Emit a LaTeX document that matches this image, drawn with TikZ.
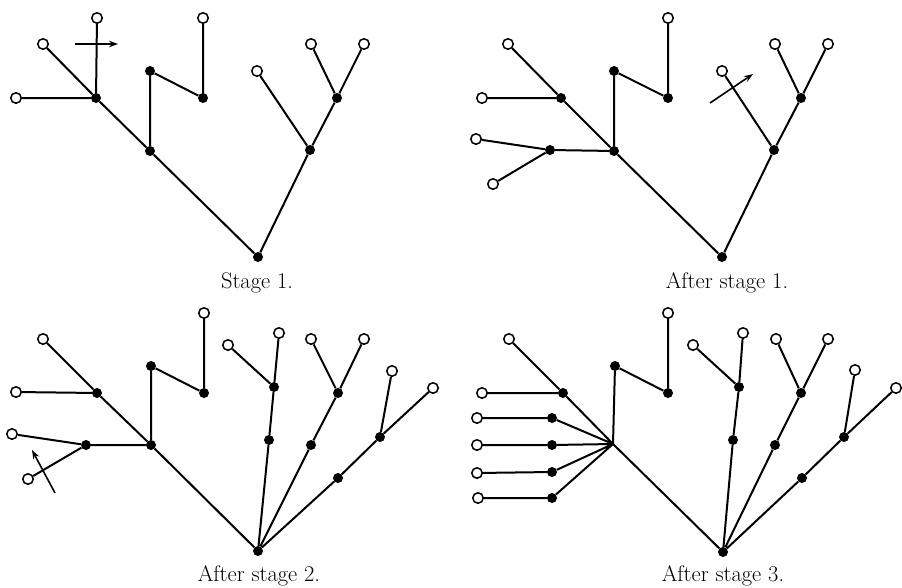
\documentclass[tikz,border=0pt]{standalone}
\usetikzlibrary{arrows.meta}
\begin{document}
\begin{tikzpicture}[x=1pt,y=-1pt,
  opn/.style={circle,draw,fill=white,inner sep=0pt,minimum size=10.5pt,line width=1.5pt},
  fil/.style={circle,fill=black,inner sep=0pt,minimum size=10pt},
  edge/.style={line width=2pt},
  mover/.style={line width=1.6pt,-{Stealth[length=9pt,width=6.5pt]}},
  lab/.style={anchor=base,font=\fontsize{22.5}{27}\selectfont,inner sep=0pt}]
\useasboundingbox (0,0) rectangle (902,587);

% ---------- Panel 1 ----------
\node[opn] (p1o1) at (97,18) {};
\node[opn] (p1o2) at (43,44) {};
\node[opn] (p1o3) at (16,98) {};
\node[fil] (p1A) at (96,98) {};
\node[fil] (p1B) at (150,151) {};
\node[fil] (p1C) at (150,71) {};
\node[fil] (p1D) at (203,98) {};
\node[opn] (p1o4) at (203,18) {};
\node[fil] (p1R) at (258,257) {};
\node[fil] (p1E) at (310,150) {};
\node[opn] (p1o5) at (257,71) {};
\node[fil] (p1F) at (337,98) {};
\node[opn] (p1o6) at (311,44) {};
\node[opn] (p1o7) at (364,44) {};
\draw[edge] (p1o1)--(p1A) (p1o2)--(p1A) (p1o3)--(p1A) (p1A)--(p1B)
  (p1B)--(p1C) (p1C)--(p1D) (p1D)--(p1o4) (p1B)--(p1R) (p1R)--(p1E)
  (p1E)--(p1o5) (p1E)--(p1F) (p1F)--(p1o6) (p1F)--(p1o7);
\coordinate (p1a1) at (75,44);
\coordinate (p1a2) at (118,44);
\draw[mover] (p1a1)--(p1a2);
\node[lab] (l1) at (257,288) {Stage 1.};

% ---------- Panel 2 ----------
\node[opn] (p2o2) at (508,44) {};
\node[opn] (p2o3) at (482,98) {};
\node[fil] (p2A) at (561,98) {};
\node[fil] (p2B) at (614,151) {};
\node[opn] (p2o8) at (476,139) {};
\node[opn] (p2o9) at (493,184) {};
\node[fil] (p2G) at (550,150) {};
\node[fil] (p2C) at (614,71) {};
\node[fil] (p2D) at (668,98) {};
\node[opn] (p2o4) at (668,18) {};
\node[fil] (p2R) at (722,257) {};
\node[fil] (p2E) at (774,150) {};
\node[opn] (p2o5) at (722,71) {};
\node[fil] (p2F) at (801,98) {};
\node[opn] (p2o6) at (775,44) {};
\node[opn] (p2o7) at (828,44) {};
\draw[edge] (p2o2)--(p2A) (p2o3)--(p2A) (p2A)--(p2B) (p2G)--(p2B)
  (p2o8)--(p2G) (p2o9)--(p2G) (p2B)--(p2C) (p2C)--(p2D) (p2D)--(p2o4)
  (p2B)--(p2R) (p2R)--(p2E) (p2E)--(p2o5) (p2E)--(p2F) (p2F)--(p2o6) (p2F)--(p2o7);
\coordinate (p2a1) at (710,103);
\coordinate (p2a2) at (753,74);
\draw[mover] (p2a1)--(p2a2);
\node[lab] (l2) at (727,288) {After stage 1.};

% ---------- Panel 3 ----------
\node[opn] (p3o2) at (43,339) {};
\node[opn] (p3o3) at (16,392) {};
\node[fil] (p3A) at (97,393) {};
\node[fil] (p3B) at (151,445) {};
\node[opn] (p3o8) at (12,434) {};
\node[opn] (p3o9) at (28,479) {};
\node[fil] (p3G) at (86,445) {};
\node[fil] (p3C) at (151,366) {};
\node[fil] (p3D) at (204,393) {};
\node[opn] (p3o4) at (204,313) {};
\node[fil] (p3R) at (258,551) {};
\node[opn] (p3o10) at (228,345) {};
\node[opn] (p3o11) at (279,333) {};
\node[fil] (p3H) at (274,387) {};
\node[fil] (p3I) at (269,440) {};
\node[opn] (p3o6) at (311,339) {};
\node[opn] (p3o7) at (364,339) {};
\node[fil] (p3F) at (338,393) {};
\node[fil] (p3J) at (311,445) {};
\node[opn] (p3o12) at (392,371) {};
\node[opn] (p3o13) at (433,388) {};
\node[fil] (p3K) at (380,437) {};
\node[fil] (p3L) at (338,478) {};
\draw[edge] (p3o2)--(p3A) (p3o3)--(p3A) (p3A)--(p3B) (p3G)--(p3B)
  (p3o8)--(p3G) (p3o9)--(p3G) (p3B)--(p3C) (p3C)--(p3D) (p3D)--(p3o4)
  (p3B)--(p3R) (p3R)--(p3I) (p3I)--(p3H) (p3H)--(p3o10) (p3H)--(p3o11)
  (p3R)--(p3J) (p3J)--(p3F) (p3F)--(p3o6) (p3F)--(p3o7)
  (p3R)--(p3L) (p3L)--(p3K) (p3K)--(p3o12) (p3K)--(p3o13);
\coordinate (p3a1) at (55,493);
\coordinate (p3a2) at (32,450);
\draw[mover] (p3a1)--(p3a2);
\node[lab] (l3) at (259,581) {After stage 2.};

% ---------- Panel 4 ----------
\node[opn] (p4o2) at (509,339) {};
\node[fil] (p4A) at (563,393) {};
\node[opn] (p4o3) at (482,393) {};
\coordinate (p4B) at (613,444);
\node[fil] (p4M1) at (552,418) {};
\node[opn] (p4n1) at (477,418) {};
\node[fil] (p4M2) at (552,445) {};
\node[opn] (p4n2) at (477,445) {};
\node[fil] (p4M3) at (552,472) {};
\node[opn] (p4n3) at (477,473) {};
\node[fil] (p4M4) at (552,498) {};
\node[opn] (p4n4) at (478,498) {};
\node[fil] (p4C) at (615,366) {};
\node[fil] (p4D) at (668,393) {};
\node[opn] (p4o4) at (668,313) {};
\node[fil] (p4R) at (723,552) {};
\node[opn] (p4o10) at (693,345) {};
\node[opn] (p4o11) at (743,333) {};
\node[fil] (p4H) at (739,387) {};
\node[fil] (p4I) at (733,440) {};
\node[opn] (p4o6) at (776,339) {};
\node[opn] (p4o7) at (828,339) {};
\node[fil] (p4F) at (801,393) {};
\node[fil] (p4J) at (775,445) {};
\node[opn] (p4o12) at (855,370) {};
\node[opn] (p4o13) at (896,388) {};
\node[fil] (p4K) at (844,437) {};
\node[fil] (p4L) at (802,478) {};
\draw[edge,line join=round] (p4o2)--(p4A) (p4o3)--(p4A) (p4A)--(p4B)
  (p4M1)--(p4B) (p4M2)--(p4B) (p4M3)--(p4B) (p4M4)--(p4B)
  (p4n1)--(p4M1) (p4n2)--(p4M2) (p4n3)--(p4M3) (p4n4)--(p4M4)
  (p4B)--(p4C) (p4C)--(p4D) (p4D)--(p4o4)
  (p4B)--(p4R) (p4R)--(p4I) (p4I)--(p4H) (p4H)--(p4o10) (p4H)--(p4o11)
  (p4R)--(p4J) (p4J)--(p4F) (p4F)--(p4o6) (p4F)--(p4o7)
  (p4R)--(p4L) (p4L)--(p4K) (p4K)--(p4o12) (p4K)--(p4o13);
\node[lab] (l4) at (723,581) {After stage 3.};
\end{tikzpicture}
\end{document}
